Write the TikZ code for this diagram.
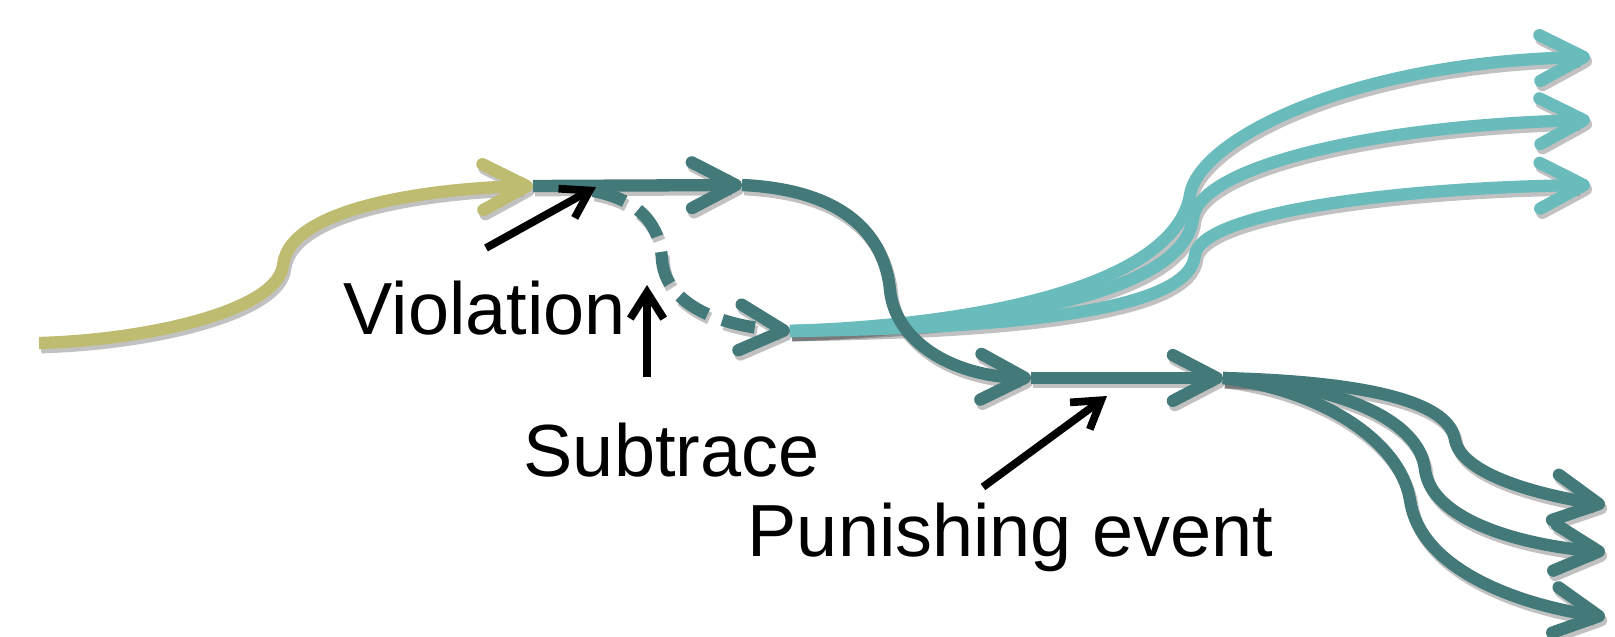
\documentclass[tikz,border=0pt]{standalone}
\usepackage{fontspec}
\setmainfont{Liberation Sans}
\usetikzlibrary{arrows.meta}
\definecolor{oliveg}{RGB}{190,188,112}
\definecolor{dteal}{RGB}{67,121,121}
\definecolor{lteal}{RGB}{106,187,187}
\tikzset{
  flow/.style={line width=3.5pt, line cap=butt, -{Straight Barb[length=12.5pt,width=13pt,round]}},
  dashflow/.style={flow, dash pattern=on 9.5pt off 4.5pt},
  pointer/.style={line width=2.2pt, black, -{Straight Barb[length=7.5pt,width=9.5pt]}},
  lbl/.style={font=\fontsize{21}{25}\selectfont, inner sep=0pt, anchor=base west}
}
% all coloured flows; #1 olive, #2 dark teal, #3 light teal
\newcommand\drawflows[3]{%
  \draw[flow, #3] (c) .. controls (1020,328) and (1190,310) .. (1195,255) .. controls (1200,215) and (1380,188) .. (t3);
  \draw[flow, #3] (c) .. controls (1010,326) and (1185,290) .. (1193,218) .. controls (1200,165) and (1380,125) .. (t2);
  \draw[flow, #3] (c) .. controls (1000,324) and (1175,280) .. (1190,195) .. controls (1198,140) and (1350,62) .. (t1);
  \draw[flow, #1] (start) .. controls (150,340) and (278,310) .. (283,265) .. controls (290,205) and (440,188) .. (v);
  \draw[flow, #2] (v) -- (v2);
  \draw[flow, #2] (v2) .. controls (850,190) and (885,240) .. (890,290) .. controls (895,340) and (950,376) .. (p);
  \draw[flow, #2] (p) -- (p2);
  \draw[dashflow, #2] (s) .. controls (640,200) and (660,225) .. (662,260) .. controls (666,305) and (720,326) .. (c);
  \draw[flow, #2] (p2) .. controls (1320,390) and (1400,440) .. (1410,500) .. controls (1420,570) and (1520,605) .. (b3);
  \draw[flow, #2] (p2) .. controls (1340,385) and (1420,420) .. (1425,470) .. controls (1432,520) and (1520,545) .. (b2);
  \draw[flow, #2] (p2) .. controls (1380,382) and (1450,405) .. (1455,440) .. controls (1462,475) and (1540,495) .. (b1);
}
\begin{document}
\begin{tikzpicture}[x=0.01cm,y=-0.01cm]
\useasboundingbox (0,0) rectangle (1615,637);
% key points
\coordinate (start) at (39,343);
\coordinate (v) at (533,186);
\coordinate (v2) at (742,185);
\coordinate (s) at (593,191);
\coordinate (c) at (790,331);
\coordinate (p) at (1031,378);
\coordinate (p2) at (1223,378);
\coordinate (t1) at (1590,57);
\coordinate (t2) at (1590,120);
\coordinate (t3) at (1590,185);
\coordinate (b1) at (1605,505);
\coordinate (b2) at (1605,552);
\coordinate (b3) at (1605,617);
% soft shadows
\begin{scope}[transform canvas={shift={(0.6pt,-1.2pt)}}]
  \drawflows{black!80,opacity=0.3}{black!80,opacity=0.3}{black!80,opacity=0.3}
\end{scope}
% coloured flows
\drawflows{oliveg}{dteal}{lteal}
% labels
\node[lbl] (viol) at (343,335) {Violation};
\node[lbl] (sub) at (523,477) {Subtrace};
\node[lbl] (pun) at (747,556) {Punishing event};
% pointers
\coordinate (va) at (486,248);
\coordinate (vt) at (596,187);
\coordinate (sa) at (647,377);
\coordinate (st) at (647,285);
\coordinate (pa) at (983,487);
\coordinate (pt) at (1107,396);
\draw[pointer] (va) -- (vt);
\draw[pointer] (sa) -- (st);
\draw[pointer] (pa) -- (pt);
\end{tikzpicture}
\end{document}
